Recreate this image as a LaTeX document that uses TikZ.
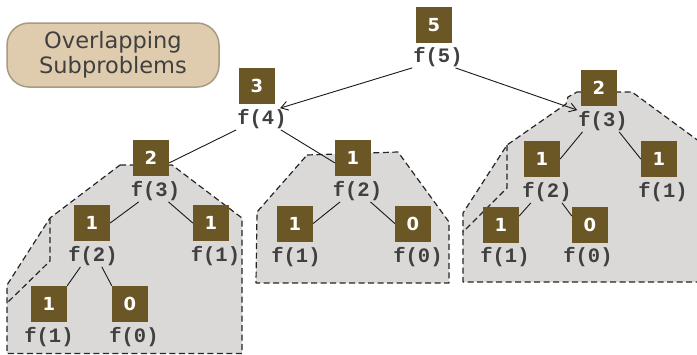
\documentclass[tikz,border=0pt]{standalone}
\usepackage{fontspec}
\usetikzlibrary{arrows.meta}
\newfontfamily\legendfont{DejaVu Sans}
\newfontfamily\callfont{Liberation Mono}

\definecolor{boxbrown}{HTML}{6B5625}
\definecolor{regiongray}{HTML}{DBD9D7}
\definecolor{legendfill}{HTML}{DFCCAE}
\definecolor{legendline}{HTML}{A89A84}
\definecolor{textgray}{HTML}{404040}

\tikzset{
  numbox/.style={fill=boxbrown, text=white, minimum size=36pt, inner sep=0pt,
    font=\legendfont\bfseries\fontsize{18}{18}\selectfont},
  callname/.style={text=textgray, inner sep=1pt,
    font=\callfont\bfseries\fontsize{20.5}{20.5}\selectfont},
  region/.style={fill=regiongray, draw=black!85, line width=1.2pt,
    dash pattern=on 6pt off 3.5pt, line join=round},
  treeedge/.style={draw=black!90, line width=0.9pt},
  callarrow/.style={treeedge, -{Straight Barb[length=7pt,width=9pt]}}
}

\begin{document}
\begin{tikzpicture}[x=1pt, y=-1pt]
  \useasboundingbox (0,0) rectangle (697,354);
  \clip (0,0) rectangle (697,354);

  % Shaded regions of repeated calls
  \draw[region] (120,165) -- (172,165) -- (242,218) -- (242,353.5)
    -- (7,353.5) -- (7,285) -- (50,218) -- cycle;
  \draw[region, fill=none] (50,218) -- (50,261) -- (7,303);

  \draw[region] (307,155) -- (398,152) -- (449,222) -- (449,283)
    -- (256,283) -- (257,212) -- cycle;

  \draw[region] (577,92) -- (632,92) -- (730,164) -- (730,282)
    -- (463,282) -- (463,213) -- (507,145) -- (566,104) -- (568,97) -- cycle;
  \draw[region, fill=none] (507,145) -- (507,188) -- (463,232);

  % Legend
  \node[fill=legendfill, draw=legendline, line width=1.5pt, rounded corners=22pt,
    minimum width=212pt, minimum height=64pt, align=center, text=textgray,
    font=\legendfont\fontsize{22.5}{25.5}\selectfont] (title) at (113,55)
    {Overlapping\\Subproblems};

  % Root and f(4)
  \node[numbox] (v5) at (434,25) {5};
  \node[callname] (f5) at (438,57) {f(5)};
  \node[numbox] (v4) at (257,86) {3};
  \node[callname] (f4) at (262,119) {f(4)};

  % Left subtree f(3)
  \node[numbox] (v3a) at (151,158) {2};
  \node[callname] (f3a) at (155.5,191) {f(3)};
  \node[numbox] (v2a) at (92,223) {1};
  \node[callname] (f2a) at (93,256) {f(2)};
  \node[numbox] (v1a) at (211,223) {1};
  \node[callname] (f1a) at (215.5,256) {f(1)};
  \node[numbox] (v1b) at (49,304) {1};
  \node[callname] (f1b) at (49,337) {f(1)};
  \node[numbox] (v0a) at (130,304) {0};
  \node[callname] (f0a) at (134,337) {f(0)};

  % Middle subtree f(2)
  \node[numbox] (v2b) at (353,158) {1};
  \node[callname] (f2b) at (357.5,191) {f(2)};
  \node[numbox] (v1c) at (295,223.5) {1};
  \node[callname] (f1c) at (296,257) {f(1)};
  \node[numbox] (v0b) at (413,223.5) {0};
  \node[callname] (f0b) at (418,257) {f(0)};

  % Right subtree f(3)
  \node[numbox] (v3b) at (599,88) {2};
  \node[callname] (f3b) at (603,121) {f(3)};
  \node[numbox] (v2c) at (542,159) {1};
  \node[callname] (f2c) at (547,192) {f(2)};
  \node[numbox] (v1d) at (659,159) {1};
  \node[callname] (f1d) at (663,192) {f(1)};
  \node[numbox] (v1e) at (501,224.5) {1};
  \node[callname] (f1e) at (505,257) {f(1)};
  \node[numbox] (v0c) at (590,224.5) {0};
  \node[callname] (f0c) at (588,257) {f(0)};

  % Calls
  \draw[callarrow] (f5.south west) -- (f4.31);
  \draw[callarrow] (f5.-32) -- (f3b.north west);
  \draw[treeedge] (f4.south west) -- (v3a.-15);
  \draw[treeedge] (f4.-30) -- (v2b.195);

  \draw[treeedge] (f3a.213) -- (v2a.east);
  \draw[treeedge] (f3a.-40) -- (v1a.west);
  \draw[treeedge] (f2a.221) -- (v1b.north east);
  \draw[treeedge] (f2a.-51) -- (v0a.north west);

  \draw[treeedge] (f2b.212) -- (v1c.east);
  \draw[treeedge] (f2b.-40) -- (v0b.west);

  \draw[treeedge] (f3b.208) -- (v2c.east);
  \draw[treeedge] (f3b.-34) -- (v1d.west);
  \draw[treeedge] (f2c.214) -- (v1e.25);
  \draw[treeedge] (f2c.-36) -- (v0c.155);
\end{tikzpicture}
\end{document}
